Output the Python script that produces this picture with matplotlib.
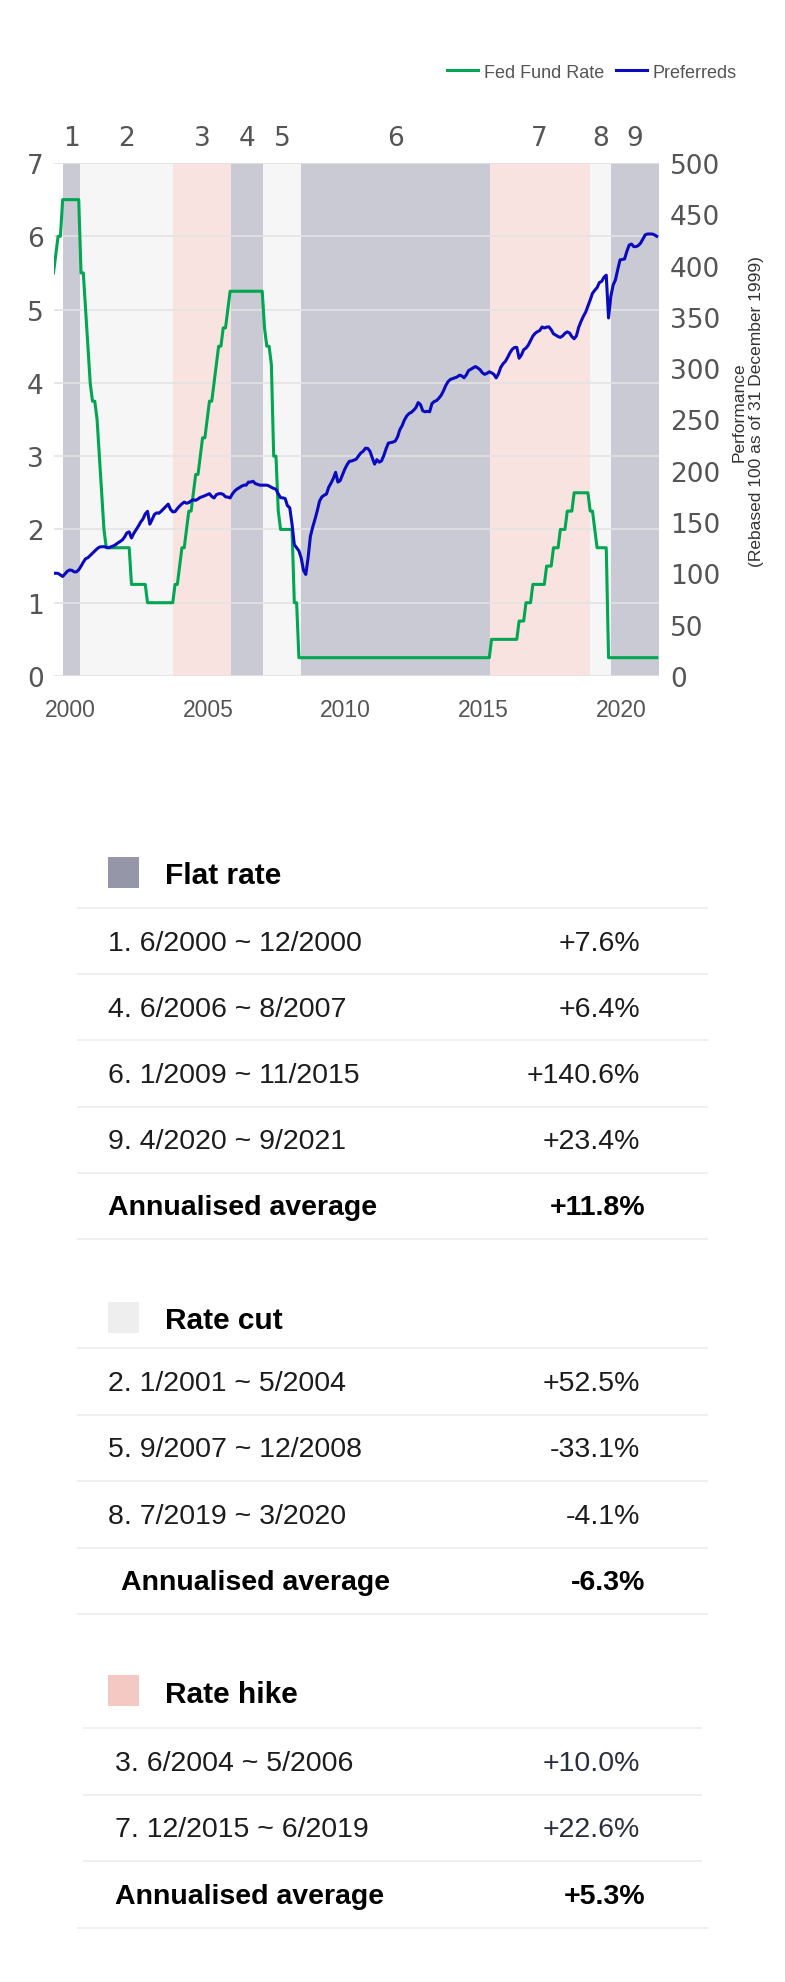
import matplotlib
matplotlib.use('Agg')
import matplotlib.pyplot as plt
import matplotlib.transforms as mtransforms
from matplotlib.lines import Line2D
from matplotlib.patches import Rectangle
import numpy as np

# ---------------- data ----------------
# Fed Fund Rate (upper bound, %), monthly from Jan 2000 to Dec 2021
fed_2000 = [5.5, 5.75, 6.0, 6.0, 6.5, 6.5, 6.5, 6.5, 6.5, 6.5, 6.5, 6.5]
fed_2001 = [5.5, 5.5, 5.0, 4.5, 4.0, 3.75, 3.75, 3.5, 3.0, 2.5, 2.0, 1.75]
fed_2002 = [1.75, 1.75, 1.75, 1.75, 1.75, 1.75, 1.75, 1.75, 1.75, 1.75, 1.25, 1.25]
fed_2003 = [1.25, 1.25, 1.25, 1.25, 1.25, 1.0, 1.0, 1.0, 1.0, 1.0, 1.0, 1.0]
fed_2004 = [1.0, 1.0, 1.0, 1.0, 1.0, 1.25, 1.25, 1.5, 1.75, 1.75, 2.0, 2.25]
fed_2005 = [2.25, 2.5, 2.75, 2.75, 3.0, 3.25, 3.25, 3.5, 3.75, 3.75, 4.0, 4.25]
fed_2006 = [4.5, 4.5, 4.75, 4.75, 5.0, 5.25, 5.25, 5.25, 5.25, 5.25, 5.25, 5.25]
fed_2007 = [5.25, 5.25, 5.25, 5.25, 5.25, 5.25, 5.25, 5.25, 4.75, 4.5, 4.5, 4.25]
fed_2008 = [3.0, 3.0, 2.25, 2.0, 2.0, 2.0, 2.0, 2.0, 2.0, 1.0, 1.0, 0.25]
fed_2009 = [0.25, 0.25, 0.25, 0.25, 0.25, 0.25, 0.25, 0.25, 0.25, 0.25, 0.25, 0.25]
fed_2010 = [0.25, 0.25, 0.25, 0.25, 0.25, 0.25, 0.25, 0.25, 0.25, 0.25, 0.25, 0.25]
fed_2011 = [0.25, 0.25, 0.25, 0.25, 0.25, 0.25, 0.25, 0.25, 0.25, 0.25, 0.25, 0.25]
fed_2012 = [0.25, 0.25, 0.25, 0.25, 0.25, 0.25, 0.25, 0.25, 0.25, 0.25, 0.25, 0.25]
fed_2013 = [0.25, 0.25, 0.25, 0.25, 0.25, 0.25, 0.25, 0.25, 0.25, 0.25, 0.25, 0.25]
fed_2014 = [0.25, 0.25, 0.25, 0.25, 0.25, 0.25, 0.25, 0.25, 0.25, 0.25, 0.25, 0.25]
fed_2015 = [0.25, 0.25, 0.25, 0.25, 0.25, 0.25, 0.25, 0.25, 0.25, 0.25, 0.25, 0.5]
fed_2016 = [0.5, 0.5, 0.5, 0.5, 0.5, 0.5, 0.5, 0.5, 0.5, 0.5, 0.5, 0.75]
fed_2017 = [0.75, 0.75, 1.0, 1.0, 1.0, 1.25, 1.25, 1.25, 1.25, 1.25, 1.25, 1.5]
fed_2018 = [1.5, 1.5, 1.75, 1.75, 1.75, 2.0, 2.0, 2.0, 2.25, 2.25, 2.25, 2.5]
fed_2019 = [2.5, 2.5, 2.5, 2.5, 2.5, 2.5, 2.25, 2.25, 2.0, 1.75, 1.75, 1.75]
fed_2020 = [1.75, 1.75, 0.25, 0.25, 0.25, 0.25, 0.25, 0.25, 0.25, 0.25, 0.25, 0.25]
fed_2021 = [0.25, 0.25, 0.25, 0.25, 0.25, 0.25, 0.25, 0.25, 0.25, 0.25, 0.25, 0.25]

# Preferreds performance (rebased 100 as of 31 Dec 1999), monthly
pref_2000 = [100, 100.2, 100, 98.5, 97, 99.5, 102, 103.3, 103, 101.5, 101.5, 103.5]
pref_2001 = [107, 111, 114.3, 115.3, 117.5, 119.8, 122, 124, 125.6, 126, 126, 125.6]
pref_2002 = [125, 125.8, 126.7, 127.9, 129.6, 131, 132.6, 135.5, 139.5, 140.5, 134.5, 139]
pref_2003 = [142.5, 146, 150, 153, 158, 160.5, 148, 152.5, 157.5, 159, 158.7, 160.7]
pref_2004 = [163, 165.2, 167.5, 162.5, 160, 160.2, 163.2, 165.7, 167.8, 169.5, 168.4, 169]
pref_2005 = [170.7, 171.8, 171.2, 172.5, 174.1, 174.8, 175.7, 176.7, 177.7, 175, 173.5, 176.7]
pref_2006 = [177.6, 177.8, 177, 174.6, 174.4, 173.5, 177.5, 180.3, 182.2, 183.5, 185, 186]
pref_2007 = [186, 189, 189, 189.8, 187.5, 186.7, 186, 186, 186, 186, 185.2, 183.9]
pref_2008 = [182.8, 182, 177.5, 173.8, 173.6, 173, 166, 164, 148, 128, 125, 122]
pref_2009 = [115, 103, 99, 115, 136, 145, 152.7, 161, 170.5, 174.5, 176.2, 177.3]
pref_2010 = [184, 188, 192.5, 198.5, 189, 190.5, 196, 201.6, 206, 209.2, 209.6, 210.4]
pref_2011 = [211.4, 214.5, 217.4, 219, 222, 221.8, 219, 212.5, 206.5, 210.8, 208.4, 209.6]
pref_2012 = [214.8, 221.4, 227, 227.5, 228, 229, 233, 240, 244, 249.5, 253.4, 255.8]
pref_2013 = [257, 259, 261.5, 266.5, 264.5, 258.5, 257.5, 258, 257.5, 265.5, 267.5, 268.4]
pref_2014 = [270.7, 273.5, 277.8, 283, 286.8, 289, 289.8, 290.6, 291.5, 293.2, 292.5, 290.7]
pref_2015 = [293.5, 297.8, 299, 300.4, 301.6, 300.2, 298.5, 295.5, 294, 295, 296.5, 295.5]
pref_2016 = [294, 290.5, 294.5, 300.8, 304.3, 306.6, 310.5, 315, 318.4, 320.2, 320.3, 309.7]
pref_2017 = [312.8, 318, 319.6, 322.5, 326.8, 331.3, 334, 335.6, 336.7, 340.2, 339.2, 340]
pref_2018 = [340.3, 337.5, 333.5, 332.3, 330.8, 330.1, 331.5, 334, 335.4, 334.3, 330.8, 328.7]
pref_2019 = [331.5, 340, 345.5, 350.5, 354.5, 360.5, 366.5, 373, 376, 378.5, 383.5, 384.6]
pref_2020 = [388.6, 390.7, 349, 370, 381, 386, 396, 405.5, 406, 406.5, 414, 420]
pref_2021 = [421, 418.5, 418.5, 419.6, 422, 426, 430, 430.8, 430.8, 430.8, 430, 428.6]

fed_rate = (fed_2000 + fed_2001 + fed_2002 + fed_2003 + fed_2004 + fed_2005 + fed_2006 +
            fed_2007 + fed_2008 + fed_2009 + fed_2010 + fed_2011 + fed_2012 + fed_2013 +
            fed_2014 + fed_2015 + fed_2016 + fed_2017 + fed_2018 + fed_2019 + fed_2020 + fed_2021)
preferreds = (pref_2000 + pref_2001 + pref_2002 + pref_2003 + pref_2004 + pref_2005 + pref_2006 +
              pref_2007 + pref_2008 + pref_2009 + pref_2010 + pref_2011 + pref_2012 + pref_2013 +
              pref_2014 + pref_2015 + pref_2016 + pref_2017 + pref_2018 + pref_2019 + pref_2020 + pref_2021)

# Regime periods: label, type, shading start/end (months after Jan 2000, as drawn)
period_labels = ['1', '2', '3', '4', '5', '6', '7', '8', '9']
period_types = ['flat', 'cut', 'hike', 'flat', 'cut', 'flat', 'hike', 'cut', 'flat']
period_start = [4.0, 11.5, 52.2, 77.6, 91.4, 107.7, 190.2, 233.8, 243.2]
period_end = [11.5, 52.2, 77.6, 91.4, 107.7, 190.2, 233.8, 243.2, 264.0]

left_ticks = [0, 1, 2, 3, 4, 5, 6, 7]
right_ticks = [0, 50, 100, 150, 200, 250, 300, 350, 400, 450, 500]
year_labels = ['2000', '2005', '2010', '2015', '2020']

# Table
section_titles = ['Flat rate', 'Rate cut', 'Rate hike']
section_types = ['flat', 'cut', 'hike']
flat_rows = ['1. 6/2000 ~ 12/2000', '4. 6/2006 ~ 8/2007', '6. 1/2009 ~ 11/2015', '9. 4/2020 ~ 9/2021']
flat_vals = ['+7.6%', '+6.4%', '+140.6%', '+23.4%']
flat_avg = '+11.8%'
cut_rows = ['2. 1/2001 ~ 5/2004', '5. 9/2007 ~ 12/2008', '8. 7/2019 ~ 3/2020']
cut_vals = ['+52.5%', '-33.1%', '-4.1%']
cut_avg = '-6.3%'
hike_rows = ['3. 6/2004 ~ 5/2006', '7. 12/2015 ~ 6/2019']
hike_vals = ['+10.0%', '+22.6%']
hike_avg = '+5.3%'
avg_label = 'Annualised average'

# ---------------- style ----------------
type_colors = {'flat': '#9596a8', 'cut': '#eeeeee', 'hike': '#f4c9c4'}
GREEN = '#00a651'
BLUE = '#0a0abf'
GREY_TXT = '#555555'
SANS = ['Liberation Sans', 'DejaVu Sans']
TICKF = ['DejaVu Sans']

W, H = 785, 1983
fig = plt.figure(figsize=(W / 100, H / 100), dpi=100)
fig.patch.set_facecolor('white')


def fx(px):
    return px / W


def fy(py):
    return 1 - py / H


L, R, T, B = 53.5, 659.0, 164.0, 677.0
ax = fig.add_axes([fx(L), fy(B), (R - L) / W, (B - T) / H])
ax2 = ax.twinx()

months = np.arange(len(fed_rate))
xs = 2000 + months / 12.0

# shading
for s, e, t in zip(period_start, period_end, period_types):
    ax.axvspan(2000 + s / 12.0, 2000 + e / 12.0, color=type_colors[t], alpha=0.5, lw=0, zorder=0.2)

ax.set_axisbelow(True)
ax.yaxis.grid(True, color='#e3e3e3', lw=1.2)
ax.xaxis.grid(False)

ax.plot(xs, fed_rate, color=GREEN, lw=2.2, zorder=2, solid_joinstyle='round')
ax2.plot(xs, preferreds, color=BLUE, lw=2.2, zorder=3, solid_joinstyle='round')

ax.set_xlim(2000, 2022)
ax.set_ylim(0, 7)
ax2.set_ylim(0, 500)

for a in (ax, ax2):
    for sp in a.spines.values():
        sp.set_visible(False)

ax.set_yticks(left_ticks)
ax.set_yticklabels([str(v) for v in left_ticks], fontsize=19, color=GREY_TXT, family=TICKF)
ax2.set_yticks(right_ticks)
ax2.set_yticklabels([str(v) for v in right_ticks], fontsize=19, color=GREY_TXT, family=TICKF)
ax.tick_params(axis='y', length=0, pad=7)
ax2.tick_params(axis='y', length=0, pad=8)

ax.set_xticks([int(y) + 0.62 for y in year_labels])
ax.set_xticklabels(year_labels, fontsize=16.5, color=GREY_TXT, family=SANS)
ax.tick_params(axis='x', length=0, pad=15.5)

# period numbers
trans = mtransforms.blended_transform_factory(ax.transData, ax.transAxes)
for lab, s, e in zip(period_labels, period_start, period_end):
    cx = 2000 + (s + e) / 2.0 / 12.0
    ax.text(cx, (B - 146) / (B - T), lab, transform=trans, ha='center', va='baseline',
            fontsize=19, color=GREY_TXT, family=TICKF)

# legend
handles = [Line2D([], [], color=GREEN, lw=2.2), Line2D([], [], color=BLUE, lw=2.2)]
leg = ax.legend(handles, ['Fed Fund Rate', 'Preferreds'], loc='center right',
                bbox_to_anchor=(fx(737), fy(73)), bbox_transform=fig.transFigure,
                ncol=2, frameon=False, prop={'family': SANS, 'size': 13},
                handlelength=1.72, handletextpad=0.3, columnspacing=0.7,
                borderpad=0, borderaxespad=0, labelcolor=GREY_TXT)

# right axis label
fig.text(fx(747.5), fy(412), 'Performance\n(Rebased 100 as of 31 December 1999)', rotation=90,
         ha='center', va='center', multialignment='center', fontsize=12.5, color='#333333',
         family=SANS, linespacing=1.2)

# ---------------- table ----------------
tab = fig.add_axes([0, 0, 1, fy(800)])
tab.set_xlim(0, W)
tab.set_ylim(H, 800)
tab.axis('off')

sections = [
    (flat_rows, flat_vals, flat_avg),
    (cut_rows, cut_vals, cut_avg),
    (hike_rows, hike_vals, hike_avg),
]
header_y = [873, 1318, 1691.5]
first_sep = [909, 1349.3, 1729.3]
row_h = [66.2, 66.4, 66.4]
row_x = [107.6, 107.6, 114.7]
avg_x = [108.4, 121.0, 114.7]
sep_x = [(77, 708), (77, 708), (83, 702)]
val_colors = ['#1c1c1c', '#1c1c1c', '#2b2e40']
ROWF = 20.5

for k, (title, typ, (rows, vals, avg)) in enumerate(zip(section_titles, section_types, sections)):
    hy = header_y[k]
    tab.add_patch(Rectangle((107.6, hy - 15.5), 31, 31, facecolor=type_colors[typ], edgecolor='none'))
    tab.text(165, hy + 11.3, title, ha='left', va='baseline', fontsize=21.5, fontweight='bold',
             color='#000000', family=SANS)
    x0, x1 = sep_x[k]
    n = len(rows) + 1
    for j in range(n + 1):
        yy = first_sep[k] + j * row_h[k]
        xa, xb = (77, 708) if j == n else (x0, x1)
        tab.plot([xa, xb], [yy, yy], color='#ececec', lw=1.2, solid_capstyle='butt')
    for j, (r, v) in enumerate(zip(rows, vals)):
        cy = first_sep[k] + (j + 0.5) * row_h[k] - 2
        tab.text(row_x[k], cy + 10.5, r, ha='left', va='baseline', fontsize=ROWF,
                 color='#1c1c1c', family=SANS)
        tab.text(640, cy + 10.5, v, ha='right', va='baseline', fontsize=ROWF,
                 color=val_colors[k], family=SANS)
    cy = first_sep[k] + (len(rows) + 0.5) * row_h[k] - 2
    tab.text(avg_x[k], cy + 10.5, avg_label, ha='left', va='baseline', fontsize=ROWF,
             fontweight='bold', color='#000000', family=SANS)
    tab.text(645, cy + 10.5, avg, ha='right', va='baseline', fontsize=ROWF,
             fontweight='bold', color='#000000', family=SANS)

fig.savefig('out.png', dpi=100, facecolor='white')
